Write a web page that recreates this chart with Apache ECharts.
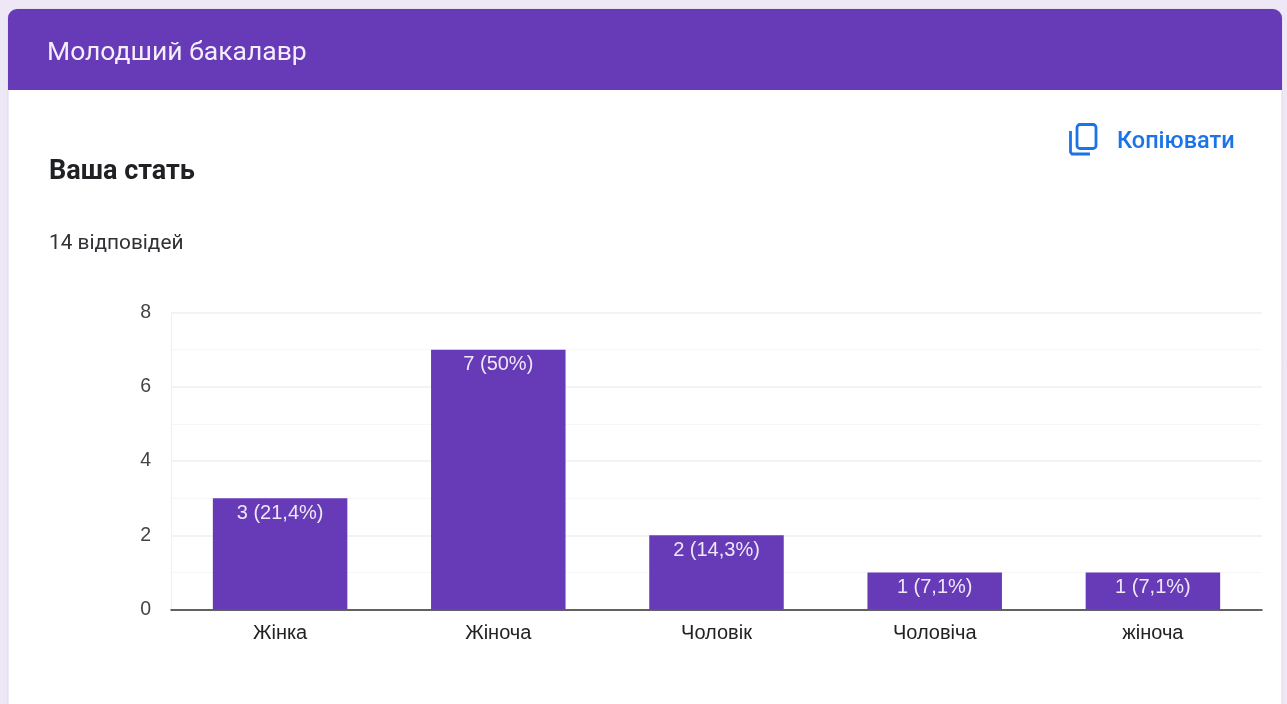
<!DOCTYPE html>
<html><head><meta charset="utf-8">
<style>html,body{margin:0;padding:0;background:#ede7f6;overflow:hidden}#c{width:1287px;height:704px}</style>
<script src="https://cdn.jsdelivr.net/npm/echarts@6/dist/echarts.min.js"></script>
</head><body><div id="c"></div>
<script>
const categories = ['Жінка','Жіноча','Чоловік','Чоловіча','жіноча'];
const values = [3,7,2,1,1];
const percents = ['21,4%','50%','14,3%','7,1%','7,1%'];
const sectionTitle = 'Молодший бакалавр';
const question = 'Ваша стать';
const answers = '14 відповідей';
const copyLabel = 'Копіювати';
const chart = echarts.init(document.getElementById('c'), null, {renderer:'canvas'});
chart.setOption({
  animation:false,
  backgroundColor:'#ede7f6',
  grid:{left:171,right:25,top:312.5,bottom:94.5,containLabel:false},
  graphic:[
    {type:'rect',z:-10,silent:true,shape:{x:8,y:9,width:1274,height:720,r:[9,9,0,0]},style:{fill:'#ffffff',stroke:'#e0d8ee',lineWidth:1}},
    {type:'rect',z:-9,silent:true,shape:{x:8,y:9,width:1274,height:81,r:[9,9,0,0]},style:{fill:'#673ab7'}},
    {type:'text',x:47,y:39.5,style:{text:sectionTitle,fill:'#f3eef9',font:'400 26.5px Roboto'}},
    {type:'text',x:49,y:159,style:{text:question,fill:'#202124',font:'700 27px Roboto'}},
    {type:'text',x:49,y:233,style:{text:answers,fill:'#303134',font:'400 20.8px Roboto'}},
    {type:'text',x:1117,y:130,style:{text:copyLabel,fill:'#1a73e8',font:'500 23.5px Roboto'}},
    {type:'rect',shape:{x:1077,y:124.5,width:19,height:24,r:3},style:{fill:'none',stroke:'#1a73e8',lineWidth:2.8}},
    {type:'polyline',shape:{points:[[1070.5,131],[1070.5,152],[1072,154],[1090,154]]},style:{fill:'none',stroke:'#1a73e8',lineWidth:2.8}}
  ],
  xAxis:{type:'category',data:categories,
    axisLine:{show:true,lineStyle:{color:'#333333',width:1.5}},
    axisTick:{show:false},
    axisLabel:{color:'#222222',fontFamily:'Liberation Sans',fontSize:20,margin:14}},
  yAxis:{type:'value',min:0,max:8,interval:2,
    axisLine:{show:true,lineStyle:{color:'#f0f0f0',width:1}},axisTick:{show:false},
    axisLabel:{color:'#444444',fontFamily:'Liberation Sans',fontSize:19.5,margin:20,padding:[3,0,0,0]},
    splitLine:{show:true,lineStyle:{color:'#efefef',width:1.5}},
    minorTick:{show:false,splitNumber:2},
    minorSplitLine:{show:true,lineStyle:{color:'#f7f7f7',width:1}}},
  series:[{type:'bar',data:values,barWidth:134.5,
    itemStyle:{color:'#673ab7'},
    label:{show:true,position:'insideTop',distance:5,color:'#ede7f6',fontFamily:'Liberation Sans',fontSize:20,
      formatter:p=>p.value+' ('+percents[p.dataIndex]+')'}}]
});
</script></body></html>
